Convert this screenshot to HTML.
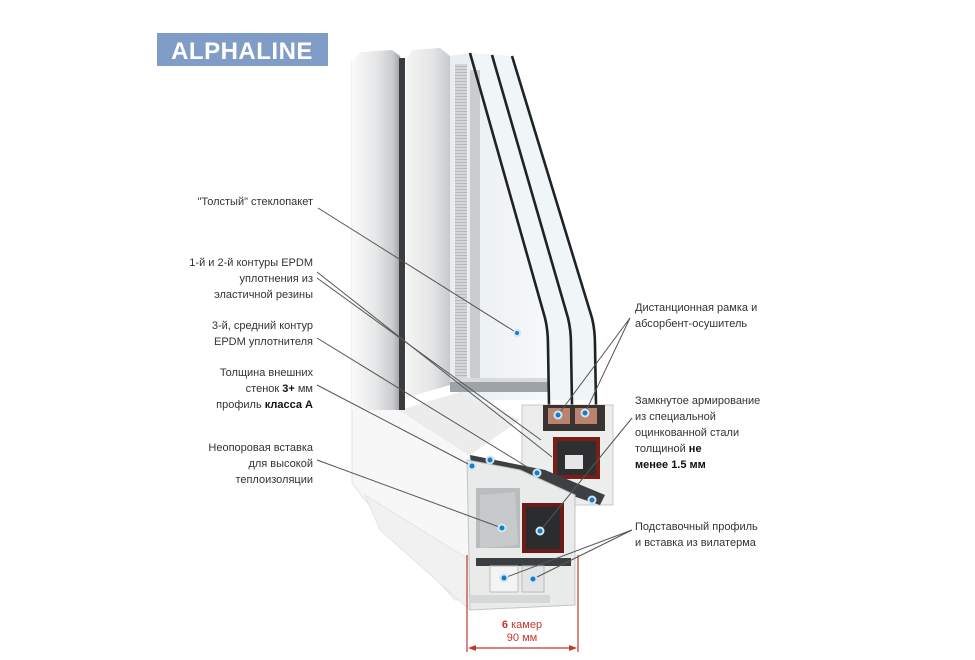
<!DOCTYPE html>
<html><head><meta charset="utf-8"><style>
html,body{margin:0;padding:0;background:#fff;}
svg{display:block}
text{font-family:"Liberation Sans","DejaVu Sans",sans-serif;font-size:11px;fill:#333}
</style></head><body>
<svg width="975" height="660" viewBox="0 0 975 660" xmlns="http://www.w3.org/2000/svg">
<defs>
<linearGradient id="col" x1="0" x2="1"><stop offset="0" stop-color="#fafafa"/><stop offset="0.5" stop-color="#e6e7e8"/><stop offset="0.85" stop-color="#c9cbcd"/><stop offset="1" stop-color="#9fa2a5"/></linearGradient>
<linearGradient id="col2" x1="0" x2="1"><stop offset="0" stop-color="#f4f4f4"/><stop offset="0.6" stop-color="#e4e5e6"/><stop offset="1" stop-color="#c7c9cb"/></linearGradient>
<linearGradient id="glass" x1="0" x2="1"><stop offset="0" stop-color="#e8edf0"/><stop offset="1" stop-color="#f6f9fb"/></linearGradient>
<pattern id="sp" width="3" height="3" patternUnits="userSpaceOnUse"><rect width="3" height="3" fill="#d4d7da"/><rect width="3" height="1" fill="#b6babe"/></pattern>
</defs>
<!-- logo -->
<rect x="157" y="33" width="171" height="33" fill="#7f9dc6"/>
<text x="242" y="59" text-anchor="middle" style="font-size:24px;font-weight:bold;fill:#fff;letter-spacing:0.5px">ALPHALINE</text>

<!-- frame big white wedge -->
<path d="M352,62 L400,56 L400,410 L470,455 L470,600 L455,600 L365,500 L352,483 Z" fill="#f7f7f7" stroke="#e2e2e2" stroke-width="1"/>
<path d="M365,495 L470,560 L470,610 L380,530 Z" fill="#f1f1f1" stroke="#e4e4e4"/>
<path d="M352,62 L360,52 L392,50 L400,56 L400,410 L352,410 Z" fill="url(#col)"/>
<path d="M400,410 L460,392 L520,420 L470,455 Z" fill="#ececec"/>
<!-- dark gap -->
<rect x="399" y="58" width="6" height="352" fill="#3a3d40"/>
<!-- sash column -->
<path d="M406,62 L412,50 L440,48 L450,56 L450,385 L406,398 Z" fill="url(#col2)"/>
<!-- glass area -->
<path d="M450,56 L470,53 L545,320 L548,400 L470,400 L450,385 Z" fill="url(#glass)"/>
<path d="M470,53 L512,56 L594,330 L596,400 L548,400 L545,320 Z" fill="#f0f5f8"/>
<!-- spacer stripes -->
<rect x="455" y="64" width="12" height="316" fill="url(#sp)"/>
<rect x="470" y="70" width="10" height="310" fill="#c9cdd0"/>
<rect x="450" y="378" width="98" height="14" fill="#9ea3a7"/>
<rect x="450" y="378" width="98" height="4" fill="#d8dbde"/>
<!-- panes -->
<g fill="none" stroke="#1f2326" stroke-width="2.6" stroke-linejoin="round">
<path d="M470,53 L545,318 Q548,330 548,345 L549,405"/>
<path d="M492,55 L568,318 Q571,330 571,345 L572,405"/>
<path d="M512,56 L592,318 Q595,330 595,345 L596,405"/>
</g>
<!-- sash profile -->
<path d="M522,405 L613,405 L613,505 L575,505 L575,520 L522,520 Z" fill="#eceded" stroke="#c9c9c9"/>
<rect x="543" y="405" width="62" height="26" fill="#3b3330"/>
<rect x="548" y="408" width="22" height="16" fill="#b88470"/>
<rect x="575" y="408" width="22" height="16" fill="#b88470"/>
<rect x="553" y="437" width="47" height="42" fill="#7a1e18"/>
<rect x="557" y="441" width="39" height="34" fill="#2d2f31"/>
<rect x="565" y="455" width="18" height="14" fill="#e6e6e6"/>
<path d="M470,455 L545,470 L605,495 L600,505 L540,485 L472,470 Z" fill="#3c4043"/>
<!-- frame profile -->
<path d="M467,460 L520,470 L575,495 L575,605 L470,610 Z" fill="#e9eaea" stroke="#c4c4c4"/>
<rect x="476" y="488" width="44" height="60" fill="#b9bcbe"/>
<path d="M480,495 L515,492 L518,545 L480,548 Z" fill="#c7c9cb"/>
<rect x="522" y="503" width="42" height="50" fill="#6e1a16"/>
<rect x="526" y="507" width="34" height="42" fill="#2a2c2e"/>
<rect x="476" y="558" width="95" height="8" fill="#3c3f42"/>
<rect x="490" y="566" width="28" height="26" fill="#f4f4f4" stroke="#bbb"/>
<rect x="522" y="566" width="22" height="26" fill="#e4e4e4" stroke="#bbb"/>
<rect x="470" y="595" width="80" height="8" fill="#d6d7d8"/>

<!-- leader lines -->
<g stroke="#555" stroke-width="1" fill="none">
<line x1="318" y1="208" x2="517" y2="333"/>
<line x1="317" y1="272" x2="552" y2="457"/>
<line x1="317" y1="278" x2="541" y2="440"/>
<line x1="317" y1="338" x2="537" y2="473"/>
<line x1="317" y1="385" x2="472" y2="466"/>
<line x1="317" y1="460" x2="502" y2="528"/>
<line x1="630" y1="318" x2="558" y2="415"/>
<line x1="630" y1="318" x2="585" y2="413"/>
<line x1="632" y1="418" x2="540" y2="531"/>
<line x1="632" y1="530" x2="504" y2="578"/>
<line x1="632" y1="530" x2="533" y2="579"/>
</g>
<!-- dots -->
<g fill="#1a7cc0" stroke="#cfe6f5" stroke-width="2">
<circle cx="517" cy="333" r="3"/>
<circle cx="558" cy="415" r="3.5"/><circle cx="585" cy="413" r="3.5"/>
<circle cx="472" cy="466" r="3.5"/><circle cx="490" cy="460" r="3.5"/>
<circle cx="537" cy="473" r="3.5"/><circle cx="592" cy="500" r="3.5"/>
<circle cx="502" cy="528" r="3.5"/><circle cx="540" cy="531" r="3.5"/>
<circle cx="504" cy="578" r="3.5"/><circle cx="533" cy="579" r="3.5"/>
</g>

<!-- dimension -->
<g stroke="#c0392b" stroke-width="1.2" fill="#c0392b">
<line x1="467" y1="555" x2="467" y2="652"/>
<line x1="578" y1="555" x2="578" y2="652"/>
<line x1="470" y1="648" x2="575" y2="648"/>
<path d="M468,648 L476,645 L476,651 Z" stroke="none"/>
<path d="M577,648 L569,645 L569,651 Z" stroke="none"/>
</g>
<text x="522" y="628" text-anchor="middle" style="fill:#c0392b;font-size:11px"><tspan style="font-weight:bold">6</tspan> камер</text>
<text x="522" y="641" text-anchor="middle" style="fill:#c0392b;font-size:11px">90 мм</text>

<!-- left labels -->
<g text-anchor="end">
<text x="313" y="205">"Толстый" стеклопакет</text>
<text x="313" y="266">1-й и 2-й контуры EPDM</text>
<text x="313" y="282">уплотнения из</text>
<text x="313" y="298">эластичной резины</text>
<text x="313" y="329">3-й, средний контур</text>
<text x="313" y="345">EPDM уплотнителя</text>
<text x="313" y="376">Толщина внешних</text>
<text x="313" y="392">стенок <tspan style="font-weight:bold;fill:#111">3+</tspan> мм</text>
<text x="313" y="408">профиль <tspan style="font-weight:bold;fill:#111">класса А</tspan></text>
<text x="313" y="451">Неопоровая вставка</text>
<text x="313" y="467">для высокой</text>
<text x="313" y="483">теплоизоляции</text>
</g>
<!-- right labels -->
<text x="635" y="311">Дистанционная рамка и</text>
<text x="635" y="327">абсорбент-осушитель</text>
<text x="635" y="404">Замкнутое армирование</text>
<text x="635" y="420">из специальной</text>
<text x="635" y="436">оцинкованной стали</text>
<text x="635" y="452">толщиной <tspan style="font-weight:bold;fill:#111">не</tspan></text>
<text x="635" y="468" style="font-weight:bold;fill:#111">менее 1.5 мм</text>
<text x="635" y="530">Подставочный профиль</text>
<text x="635" y="546">и вставка из вилатерма</text>
</svg>
</body></html>
